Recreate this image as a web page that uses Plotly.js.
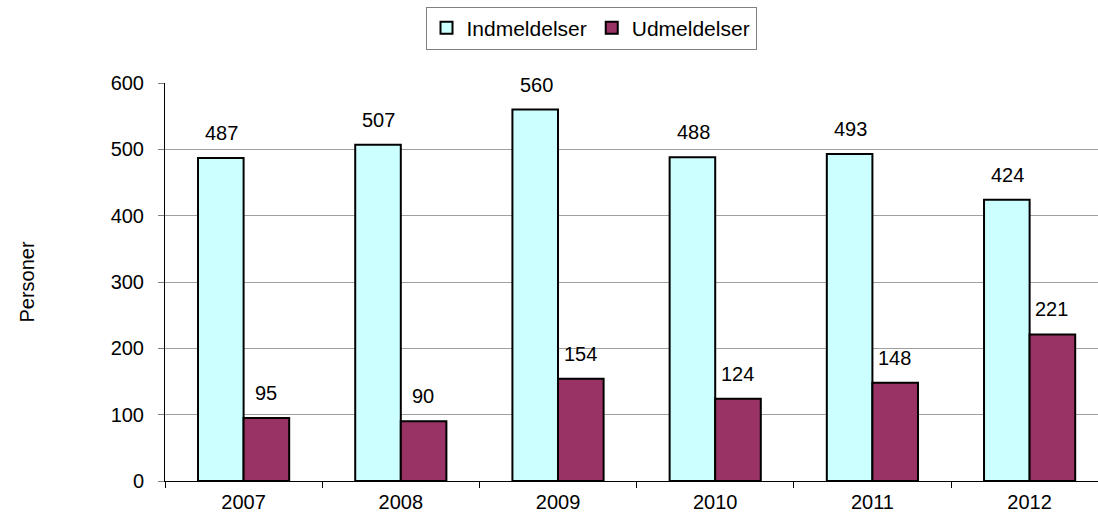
<!DOCTYPE html>
<html>
<head>
<meta charset="utf-8">
<script src="https://cdn.plot.ly/plotly-3.0.1.min.js"></script>
<style>html,body{margin:0;padding:0;background:#fff;}#chart{width:1098px;height:516px;}</style>
</head>
<body>
<div id="chart"></div>
<script>
const years = ['2007', '2008', '2009', '2010', '2011', '2012'];
const indmeldelser = [487, 507, 560, 488, 493, 424];
const udmeldelser = [95, 90, 154, 124, 148, 221];
const seriesNames = ['Indmeldelser', 'Udmeldelser'];
const yTicks = [0, 100, 200, 300, 400, 500, 600];

const FAM = 'Liberation Sans, Arial, sans-serif';
function f(size) { return {family: FAM, size: size, color: '#000'}; }

const traces = [
  {type: 'bar', name: seriesNames[0], x: years, y: indmeldelser,
   marker: {color: '#CCFFFF', line: {color: '#000', width: 2}}},
  {type: 'bar', name: seriesNames[1], x: years, y: udmeldelser,
   marker: {color: '#993366', line: {color: '#000', width: 2}}}
];

const annotations = [];
[indmeldelser, udmeldelser].forEach(function (vals, si) {
  vals.forEach(function (v, i) {
    annotations.push({x: i, y: v, text: String(v), showarrow: false,
      xref: 'x', yref: 'y', xshift: si === 0 ? -22 : 22, yanchor: 'bottom', yshift: 12,
      font: f(20)});
  });
});

const layout = {
  width: 1098, height: 516,
  margin: {l: 165, r: 0, t: 83, b: 35},
  paper_bgcolor: '#fff', plot_bgcolor: '#fff',
  font: f(20),
  barmode: 'group', bargap: 0.42, bargroupgap: 0,
  showlegend: true,
  legend: {orientation: 'h', x: 0.4566, xanchor: 'center', y: 1.192, yanchor: 'top',
    bordercolor: '#808080', borderwidth: 1, font: f(21), itemwidth: 30,
    traceorder: 'normal'},
  xaxis: {type: 'category', range: [-0.5, 5.435], showline: true, linecolor: '#000', linewidth: 1,
    ticks: 'outside', tickson: 'boundaries', ticklen: 6, tickcolor: '#000', showgrid: false,
    ticklabelstandoff: 3,
    tickfont: f(20), zeroline: false, fixedrange: true},
  yaxis: {range: [0, 600], tickvals: yTicks, ticktext: yTicks.map(String), showline: true,
    linecolor: '#000', linewidth: 1, ticks: 'outside', ticklen: 6, tickcolor: '#808080',
    ticklabelstandoff: 10,
    showgrid: true, gridcolor: '#a0a0a0', gridwidth: 1, zeroline: false, tickfont: f(20),
    title: {text: 'Personer', font: f(20), standoff: 70},
    automargin: false},
  annotations: annotations
};

Plotly.newPlot('chart', traces, layout, {displayModeBar: false});
</script>
</body>
</html>
